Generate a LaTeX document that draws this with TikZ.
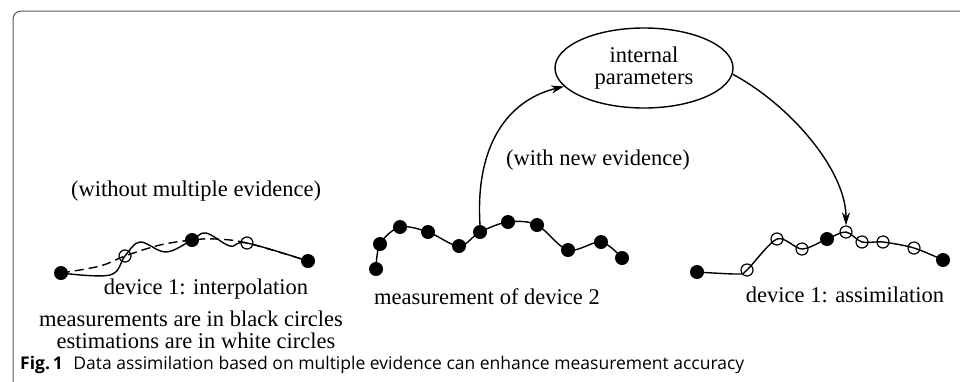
\documentclass[tikz,border=0pt]{standalone}
\usepackage{fontspec}
\setmainfont{Liberation Serif}
\newfontfamily\capfont{Open Sans}
\usetikzlibrary{shapes.geometric,arrows.meta}
\tikzset{
  bdot/.style={circle,fill=black,inner sep=0pt,minimum size=14pt},
  odot/.style={circle,draw=black,line width=1.2pt,inner sep=0pt,minimum size=12pt},
  curve/.style={line width=1.4pt,black},
  lbl/.style={inner sep=0pt,anchor=base,font=\fontsize{22.5}{22}\selectfont},
  arr/.style={line width=1.4pt,-{Stealth[length=13pt,width=8pt]}},
  framec/.style={draw=black!65,line width=1pt,rounded corners=8pt}
}
\begin{document}
\begin{tikzpicture}[x=1pt,y=-1pt]
\useasboundingbox (0,0) rectangle (960,381);
\draw[framec] (13,385) -- (13,11) -- (965,11);

% left group
\coordinate (a1) at (110,275);
\coordinate (a2) at (140,242);
\coordinate (a3) at (166,252);
\coordinate (a4) at (206,233);
\coordinate (a5) at (230,246);
\coordinate (b1) at (100,266);
\coordinate (b2) at (160,245);
\coordinate (b3) at (215,239);
\node[bdot] (L1) at (61,273) {};
\node[odot] (L2) at (125,256) {};
\node[bdot] (L3) at (192,240) {};
\node[odot] (L4) at (247,243) {};
\node[bdot] (L5) at (308,261) {};
\draw[curve] plot[smooth,tension=0.6] coordinates {(L1) (a1) (L2) (a2) (a3) (L3) (a4) (a5) (L4) (L5)};
\draw[curve,dash pattern=on 9pt off 5pt] plot[smooth,tension=0.6] coordinates {(L1) (b1) (L2) (b2) (L3) (b3) (L4) (L5)};

\node[lbl] (t1) at (196,196) {(without multiple evidence)};
\node[lbl] (t2) at (206,294) {device 1: interpolation};
\node[lbl] (t3) at (191,326) {measurements are in black circles};
\node[lbl] (t4) at (196,348) {estimations are in white circles};

% middle group
\node[bdot] (M1) at (376,269) {};
\node[bdot] (M2) at (380,244) {};
\node[bdot] (M3) at (400,227) {};
\node[bdot] (M4) at (428,232) {};
\node[bdot] (M5) at (459,246) {};
\node[bdot] (M6) at (480,232) {};
\node[bdot] (M7) at (508,222) {};
\node[bdot] (M8) at (537,225) {};
\node[bdot] (M9) at (568,250) {};
\node[bdot] (M10) at (601,242) {};
\node[bdot] (M11) at (622,258) {};
\draw[curve] plot[smooth,tension=0.55] coordinates {(M1) (M2) (M3) (M4) (M5) (M6) (M7) (M8) (M9) (M10) (M11)};
\node[lbl] (t5) at (487,304) {measurement of device 2};

% ellipse
\node[ellipse,draw,line width=1.4pt,minimum width=178pt,minimum height=80pt,inner sep=0pt,align=center,
      font=\fontsize{22.5}{22}\selectfont] (ip) at (644,68) {internal\\parameters};
\node[lbl] (t6) at (598,165) {(with new evidence)};

% right group
\node[bdot] (R1) at (697,272) {};
\node[odot] (R2) at (747,270) {};
\node[odot] (R3) at (777,239) {};
\node[odot] (R4) at (802,249) {};
\node[bdot] (R5) at (827,239) {};
\node[odot] (R6) at (846,232) {};
\node[odot] (R7) at (862,242) {};
\node[odot] (R8) at (883,242) {};
\node[odot] (R9) at (914,248) {};
\node[bdot] (R10) at (943,260) {};
\coordinate (c1) at (738,274);
\draw[curve] plot[smooth,tension=0.5] coordinates {(R1) (c1) (R2) (R3) (R4) (R5) (R6) (R7) (R8) (R9) (R10)};
\node[lbl] (t7) at (845,302) {device 1: assimilation};

% arrows
\draw[arr] (M6.north) .. controls (475,145) and (508,100) .. (ip.193.5);
\draw[arr] (ip.-4) .. controls (790,105) and (846,170) .. (R6.north);

% caption
\node[inner sep=0pt,anchor=base west,font=\capfont\fontsize{17.5}{20}\selectfont] (cap) at (20,369)
  {\textbf{Fig.\,1}\hspace{0.6em}Data assimilation based on multiple evidence can enhance measurement accuracy};
\end{tikzpicture}
\end{document}
